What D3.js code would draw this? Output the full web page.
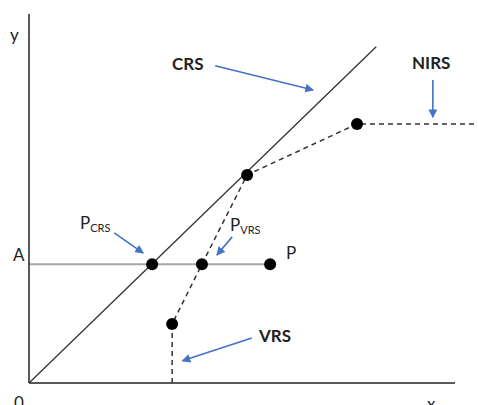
<!DOCTYPE html>
<html><head><meta charset="utf-8">
<script src="https://cdn.jsdelivr.net/npm/d3@7"></script>
<style>html,body{margin:0;padding:0;background:#fff;}svg{display:block;}</style>
</head><body>
<svg id="c" width="478" height="405"></svg>
<script>
// Data (abstract units: x 0..10, y 0..10)
const crsLine = [[0, 0], [8.15, 9.11]];
const vrsFrontier = [[3.36, 0], [3.36, 1.60], [4.06, 3.22], [5.12, 5.64], [7.70, 7.02], [10.6, 7.02]];
const projLine = [[0, 3.22], [5.66, 3.22]];
const dotNames = ["VRS low", "P_VRS", "kink", "NIRS", "P_CRS", "P"];
const dotX = [3.36, 4.06, 5.12, 7.70, 2.89, 5.66];
const dotY = [1.60, 3.22, 5.64, 7.02, 3.22, 3.22];

const svg = d3.select("#c");
const x = d3.scaleLinear().domain([0, 10]).range([29, 455]);
const y = d3.scaleLinear().domain([0, 10]).range([383, 14]);
const font = "Lato, 'Open Sans', sans-serif";

svg.append("defs").append("marker")
  .attr("id", "ah").attr("viewBox", "0 0 10 10").attr("refX", 9).attr("refY", 5)
  .attr("markerWidth", 5.5).attr("markerHeight", 5.5).attr("orient", "auto")
  .attr("markerUnits", "strokeWidth")
  .append("path").attr("d", "M0,0 L10,5 L0,10 z").attr("fill", "#4472C4");

const line = d3.line().x(d => x(d[0])).y(d => y(d[1]));

// horizontal projection line
svg.append("path").attr("d", line(projLine)).attr("fill", "none")
  .attr("stroke", "#a6a6a6").attr("stroke-width", 2);

// axes
svg.append("line").attr("x1", x(0)).attr("x2", x(0)).attr("y1", y(0)).attr("y2", y(10))
  .attr("stroke", "#222").attr("stroke-width", 1.5);
svg.append("line").attr("x1", x(0)).attr("x2", x(10)).attr("y1", y(0)).attr("y2", y(0))
  .attr("stroke", "#222").attr("stroke-width", 1.5);

// CRS
svg.append("path").attr("d", line(crsLine)).attr("fill", "none")
  .attr("stroke", "#333").attr("stroke-width", 1.3);

// VRS frontier dashed
svg.append("path").attr("d", line(vrsFrontier)).attr("fill", "none")
  .attr("stroke", "#333").attr("stroke-width", 1.5).attr("stroke-dasharray", "5,4");

// dots
svg.selectAll("circle.d").data(dotX).join("circle").attr("class", "d")
  .attr("cx", (d, i) => x(dotX[i])).attr("cy", (d, i) => y(dotY[i])).attr("r", 6)
  .attr("fill", "#000");

// arrows (annotation) [x1,y1,x2,y2] in data units
const arrows = [
  [4.37, 8.6, 6.67, 7.94],   // CRS
  [9.48, 8.21, 9.48, 7.2],   // NIRS
  [2.0, 4.07, 2.68, 3.52],   // P_CRS
  [4.77, 3.96, 4.41, 3.47],  // P_VRS
  [5.23, 1.22, 3.6, 0.6]     // VRS
];
svg.selectAll("line.ar").data(arrows).join("line").attr("class", "ar")
  .attr("x1", d => x(d[0])).attr("y1", d => y(d[1]))
  .attr("x2", d => x(d[2])).attr("y2", d => y(d[3]))
  .attr("stroke", "#4472C4").attr("stroke-width", 1.6).attr("marker-end", "url(#ah)");

// labels
function txt(tx, ty, s, opts = {}) {
  const t = svg.append("text").attr("x", tx).attr("y", ty)
    .attr("font-family", font).attr("font-size", opts.size || 16)
    .attr("font-weight", opts.bold ? "bold" : "normal")
    .attr("fill", opts.fill || "#222").attr("text-anchor", opts.anchor || "start");
  t.text(s);
  return t;
}
txt(172, 70, "CRS", {bold: true, size: 17});
txt(412, 69, "NIRS", {bold: true, size: 17});
txt(259, 342, "VRS", {bold: true, size: 17});
txt(10, 41, "y", {size: 17});
txt(13, 261, "A", {size: 17});
txt(286, 259, "P", {size: 17});
txt(14, 409, "0", {size: 17});
txt(427, 410, "x", {size: 17});
const pc = txt(80, 229, "P", {size: 17});
pc.append("tspan").attr("dy", 3).attr("font-size", 11).text("CRS");
const pv = txt(230, 231, "P", {size: 17});
pv.append("tspan").attr("dy", 3).attr("font-size", 11).text("VRS");
</script>
</body></html>
